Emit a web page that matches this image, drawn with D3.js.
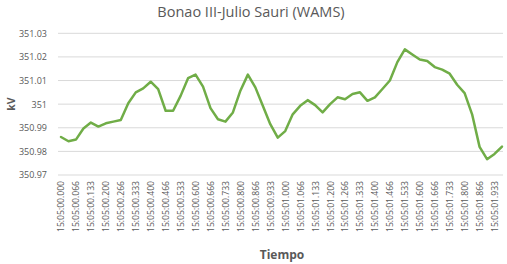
<!DOCTYPE html>
<html>
<head>
<meta charset="utf-8">
<script src="https://cdn.jsdelivr.net/npm/d3@7"></script>
<style>
  body { margin: 0; background: #fff; }
  svg { font-family: 'Open Sans', 'Liberation Sans', sans-serif; }
</style>
</head>
<body>
<svg id="chart" width="507" height="264"></svg>
<script>
// Timestamps (30 samples per second)
const times = [
  '15:05:00.000', '15:05:00.033', '15:05:00.066', '15:05:00.100', '15:05:00.133',
  '15:05:00.166', '15:05:00.200', '15:05:00.233', '15:05:00.266', '15:05:00.300',
  '15:05:00.333', '15:05:00.366', '15:05:00.400', '15:05:00.433', '15:05:00.466',
  '15:05:00.500', '15:05:00.533', '15:05:00.566', '15:05:00.600', '15:05:00.633',
  '15:05:00.666', '15:05:00.700', '15:05:00.733', '15:05:00.766', '15:05:00.800',
  '15:05:00.833', '15:05:00.866', '15:05:00.900', '15:05:00.933', '15:05:00.966',
  '15:05:01.000', '15:05:01.033', '15:05:01.066', '15:05:01.100', '15:05:01.133',
  '15:05:01.166', '15:05:01.200', '15:05:01.233', '15:05:01.266', '15:05:01.300',
  '15:05:01.333', '15:05:01.366', '15:05:01.400', '15:05:01.433', '15:05:01.466',
  '15:05:01.500', '15:05:01.533', '15:05:01.566', '15:05:01.600', '15:05:01.633',
  '15:05:01.666', '15:05:01.700', '15:05:01.733', '15:05:01.766', '15:05:01.800',
  '15:05:01.833', '15:05:01.866', '15:05:01.900', '15:05:01.933', '15:05:01.966'
];

// Voltage in kV
const kv = [
  350.9861, 350.9843, 350.9850, 350.9897, 350.9922, 350.9905, 350.9919, 350.9926, 350.9933, 351.0004,
  351.0050, 351.0067, 351.0095, 351.0064, 350.9972, 350.9972, 351.0035, 351.0110, 351.0125, 351.0074,
  350.9983, 350.9936, 350.9926, 350.9965, 351.0057, 351.0125, 351.0071, 350.9993, 350.9915, 350.9858,
  350.9886, 350.9957, 350.9993, 351.0017, 350.9996, 350.9965, 351.0000, 351.0029, 351.0021, 351.0043,
  351.0050, 351.0014, 351.0029, 351.0064, 351.0100, 351.0178, 351.0232, 351.0210, 351.0189, 351.0183,
  351.0157, 351.0146, 351.0129, 351.0082, 351.0047, 350.9957, 350.9819, 350.9767, 350.9789, 350.9820
];

const yTicks = [350.97, 350.98, 350.99, 351, 351.01, 351.02, 351.03];

const svg = d3.select('svg#chart');
const textColor = '#595959';

const x = d3.scalePoint().domain(times).range([61, 502]);
const y = d3.scaleLinear().domain([350.97, 351.03]).range([175, 33.3]);

// title
svg.append('text')
  .attr('x', 251)
  .attr('y', 17)
  .attr('text-anchor', 'middle')
  .attr('fill', textColor)
  .attr('font-size', '14.5px')
  .text('Bonao III-Julio Sauri (WAMS)');

// horizontal gridlines
svg.append('g')
  .selectAll('line')
  .data(yTicks)
  .enter()
  .append('line')
  .attr('x1', 58)
  .attr('x2', 503)
  .attr('y1', d => y(d))
  .attr('y2', d => y(d))
  .attr('stroke', '#d9d9d9')
  .attr('stroke-width', 1);

// y axis labels
const yAxis = d3.axisLeft(y)
  .tickValues(yTicks)
  .tickSize(0)
  .tickPadding(0)
  .tickFormat(d => String(+d.toFixed(2)));
svg.append('g')
  .attr('transform', 'translate(47,0)')
  .call(yAxis)
  .call(g => g.select('.domain').remove())
  .call(g => g.selectAll('text')
    .attr('fill', textColor)
    .attr('font-size', '9px')
    .attr('font-family', "'Open Sans', sans-serif"));

// x axis labels, every other sample
const xAxis = d3.axisBottom(x)
  .tickValues(times.filter((t, i) => i % 2 === 0))
  .tickSize(0);
svg.append('g')
  .attr('transform', 'translate(0,181)')
  .call(xAxis)
  .call(g => g.select('.domain').remove())
  .call(g => g.selectAll('text')
    .attr('fill', textColor)
    .attr('font-size', '8.6px')
    .attr('font-family', "'Open Sans', sans-serif")
    .attr('text-anchor', 'end')
    .attr('transform', 'rotate(-90)')
    .attr('x', 0)
    .attr('y', 0)
    .attr('dy', '0.34em'));

// axis titles
svg.append('text')
  .attr('transform', 'translate(15,104) rotate(-90)')
  .attr('text-anchor', 'middle')
  .attr('fill', textColor)
  .attr('font-size', '10.5px')
  .attr('font-weight', 'bold')
  .text('kV');

svg.append('text')
  .attr('x', 282)
  .attr('y', 259)
  .attr('text-anchor', 'middle')
  .attr('fill', textColor)
  .attr('font-size', '12px')
  .attr('font-weight', 'bold')
  .text('Tiempo');

// the series line
const line = d3.line()
  .x((d, i) => x(times[i]))
  .y(d => y(d));

svg.append('path')
  .datum(kv)
  .attr('fill', 'none')
  .attr('stroke', '#70ad47')
  .attr('stroke-width', 2.5)
  .attr('stroke-linejoin', 'round')
  .attr('stroke-linecap', 'round')
  .attr('d', line);
</script>
</body>
</html>
